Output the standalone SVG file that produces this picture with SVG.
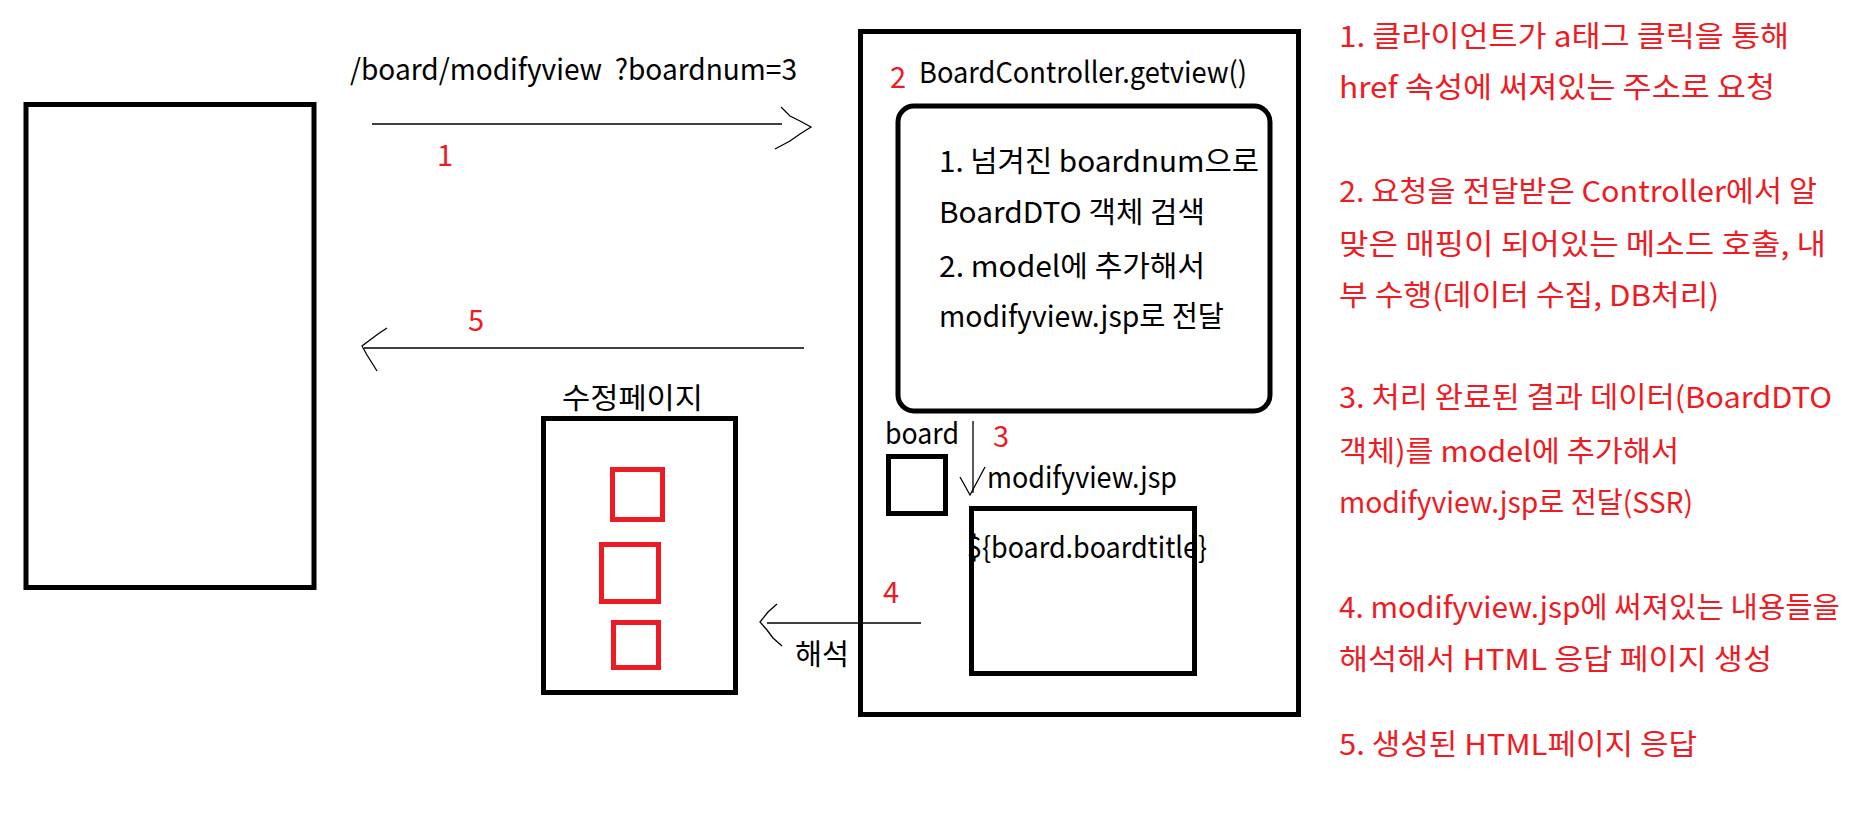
<svg xmlns="http://www.w3.org/2000/svg" width="1858" height="820" viewBox="0 0 1858 820">
<style>
text{font-family:"Noto Sans CJK KR","Noto Sans",sans-serif;font-size:29px;fill:#000}
.r{fill:#ED1C24}
.box{fill:none;stroke:#000;stroke-width:5}
.rbox{fill:none;stroke:#ED1C24;stroke-width:5}
.ln{fill:none;stroke:#000;stroke-width:1.3}
</style>
<rect width="1858" height="820" fill="#fff"/>
<g id="client"><rect class="box" x="26" y="104.5" width="288" height="483"/></g>
<g id="controller">
<rect class="box" x="860.5" y="31.5" width="438" height="683"/>
<text class="r" x="890" y="88">2</text>
<text x="919" y="83" textLength="328" lengthAdjust="spacingAndGlyphs">BoardController.getview()</text>
</g>
<g id="logic">
<rect class="box" x="898" y="106" width="372" height="305" rx="16"/>
<text x="939" y="172" textLength="320" lengthAdjust="spacingAndGlyphs">1. 넘겨진 boardnum으로</text>
<text x="939" y="223" textLength="266" lengthAdjust="spacingAndGlyphs">BoardDTO 객체 검색</text>
<text x="939" y="277" textLength="266" lengthAdjust="spacingAndGlyphs">2. model에 추가해서</text>
<text x="939" y="327" textLength="285" lengthAdjust="spacingAndGlyphs">modifyview.jsp로 전달</text>
</g>
<g id="board-model">
<text x="885" y="444" textLength="74" lengthAdjust="spacingAndGlyphs">board</text>
<rect class="box" x="888.5" y="456.5" width="57" height="57"/>
</g>
<g id="jsp">
<text x="987" y="488" textLength="190" lengthAdjust="spacingAndGlyphs">modifyview.jsp</text>
<rect class="box" x="971.5" y="508.5" width="223" height="165"/>
<text x="967" y="558" textLength="240" lengthAdjust="spacingAndGlyphs">${board.boardtitle}</text>
</g>
<g id="edit-page">
<text x="562" y="409" textLength="141" lengthAdjust="spacingAndGlyphs">수정페이지</text>
<rect class="box" x="543.5" y="418.5" width="192" height="274"/>
<rect class="rbox" x="612.5" y="469.5" width="50" height="50"/>
<rect class="rbox" x="601.5" y="544.5" width="57" height="57"/>
<rect class="rbox" x="613.5" y="622.5" width="45" height="45"/>
</g>
<g id="connectors">
<line class="ln" x1="372" y1="124" x2="782" y2="124"/>
<polyline class="ln" points="781,107 790,116 800,121 811,127 800,134 790,141 775,149"/>
<text class="r" x="437" y="166">1</text>
<line class="ln" x1="364" y1="348" x2="804" y2="348"/>
<polyline class="ln" points="387,328 378,334 370,340 362,346 367,355 372,363 377,371"/>
<text class="r" x="468" y="331">5</text>
<line class="ln" x1="973" y1="421" x2="973" y2="493"/>
<polyline class="ln" points="960,477 965,486 970,495 977,482 985,467"/>
<text class="r" x="993" y="447">3</text>
<line class="ln" x1="767" y1="623" x2="921" y2="623"/>
<polyline class="ln" points="777,604 768,612 760,622 767,630 773,638 782,646"/>
<text class="r" x="883" y="603">4</text>
<text x="795" y="665" textLength="54" lengthAdjust="spacingAndGlyphs">해석</text>
<text x="350" y="80" xml:space="preserve" textLength="447" lengthAdjust="spacingAndGlyphs">/board/modifyview  ?boardnum=3</text>
</g>
<g id="notes">
<text class="r" x="1339" y="47" textLength="450" lengthAdjust="spacingAndGlyphs">1. 클라이언트가 a태그 클릭을 통해</text>
<text class="r" x="1339" y="98" textLength="436" lengthAdjust="spacingAndGlyphs">href 속성에 써져있는 주소로 요청</text>
<text class="r" x="1339" y="202" textLength="478" lengthAdjust="spacingAndGlyphs">2. 요청을 전달받은 Controller에서 알</text>
<text class="r" x="1339" y="255" textLength="487" lengthAdjust="spacingAndGlyphs">맞은 매핑이 되어있는 메소드 호출, 내</text>
<text class="r" x="1339" y="306" textLength="380" lengthAdjust="spacingAndGlyphs">부 수행(데이터 수집, DB처리)</text>
<text class="r" x="1339" y="408" textLength="493" lengthAdjust="spacingAndGlyphs">3. 처리 완료된 결과 데이터(BoardDTO</text>
<text class="r" x="1339" y="462" textLength="340" lengthAdjust="spacingAndGlyphs">객체)를 model에 추가해서</text>
<text class="r" x="1339" y="513" textLength="354" lengthAdjust="spacingAndGlyphs">modifyview.jsp로 전달(SSR)</text>
<text class="r" x="1339" y="618" textLength="501" lengthAdjust="spacingAndGlyphs">4. modifyview.jsp에 써져있는 내용들을</text>
<text class="r" x="1339" y="670" textLength="433" lengthAdjust="spacingAndGlyphs">해석해서 HTML 응답 페이지 생성</text>
<text class="r" x="1339" y="755" textLength="358" lengthAdjust="spacingAndGlyphs">5. 생성된 HTML페이지 응답</text>
</g>
</svg>
